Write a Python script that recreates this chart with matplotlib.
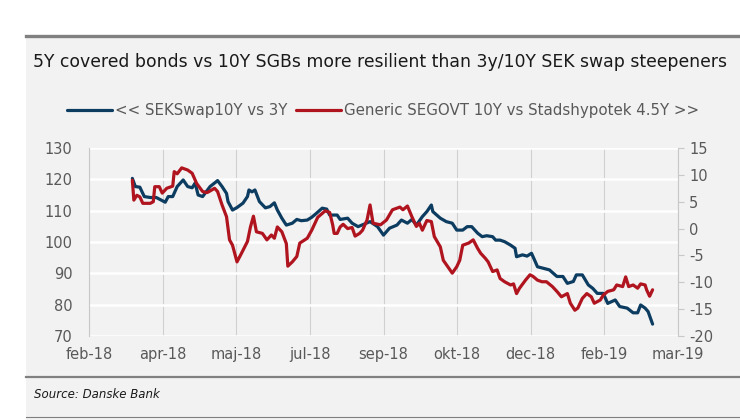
import numpy as np
import pandas as pd
import matplotlib
matplotlib.use("Agg")
import matplotlib.pyplot as plt
from matplotlib.lines import Line2D
from matplotlib.patches import Rectangle

plt.rcParams["axes.unicode_minus"] = False

# ── Data ────────────────────────────────────────────────────────────────────
START = pd.Timestamp("2018-02-21")
AXIS_DAYS = 394
TICK_LABELS = ["feb-18", "apr-18", "maj-18", "jul-18", "sep-18",
               "okt-18", "dec-18", "feb-19", "mar-19"]

# << SEKSwap10Y vs 3Y (left axis), day offset from START
swap_days = [29, 31, 34, 37, 41, 45, 49, 51, 53, 56, 59, 63, 66, 69, 71, 73,
             76, 81, 85, 86, 89, 92, 93, 96, 99, 103, 106, 107, 109, 111, 114,
             118, 121, 124, 126, 129, 132, 136, 139, 142, 146, 149, 152, 156,
             159, 161, 166, 168, 173, 176, 180, 183, 188, 193, 197, 201, 206,
             209, 213, 216, 219, 223, 226, 229, 230, 235, 239, 243, 246, 250,
             253, 256, 260, 263, 266, 270, 272, 275, 278, 282, 285, 286, 290,
             293, 296, 298, 300, 304, 308, 313, 317, 320, 324, 326, 330, 334,
             337, 340, 344, 347, 352, 355, 360, 364, 367, 369, 372, 374, 377]
swap_vals = [120.3, 117.7, 117.5, 114.5, 114.2, 114.2, 113.2, 112.7, 114.5,
             114.5, 117.7, 119.8, 117.7, 117.3, 118.8, 115.0, 114.5, 117.7,
             119.2, 119.6, 117.7, 115.5, 112.9, 110.2, 111.0, 112.4, 114.5,
             116.6, 116.0, 116.6, 112.9, 110.9, 111.3, 112.5, 110.2, 107.6,
             105.4, 106.0, 107.2, 106.8, 107.0, 107.9, 109.1, 110.8, 110.5,
             108.6, 108.6, 107.2, 107.6, 106.0, 104.9, 105.5, 106.5, 104.9,
             102.2, 104.4, 105.4, 107.0, 106.0, 107.2, 105.4, 108.1, 109.7,
             111.8, 109.7, 107.6, 106.5, 106.0, 103.8, 103.8, 104.9, 104.9,
             102.8, 101.7, 102.0, 101.7, 100.6, 100.6, 100.1, 99.0, 98.0,
             95.3, 95.9, 95.5, 96.4, 94.3, 92.1, 91.6, 91.1, 89.0, 89.0, 86.8,
             87.4, 89.5, 89.5, 86.3, 85.2, 83.6, 83.6, 80.4, 81.5, 79.4, 78.9,
             77.4, 77.4, 79.9, 78.9, 77.8, 73.8]

# Generic SEGOVT 10Y vs Stadshypotek 4.5Y >> (right axis)
gov_days = [29, 30, 32, 34, 36, 41, 43, 44, 47, 49, 52, 56, 57, 59, 62, 66, 69,
            72, 76, 79, 81, 84, 86, 89, 92, 94, 96, 99, 102, 106, 108, 110,
            112, 116, 119, 122, 124, 126, 129, 132, 133, 136, 139, 141, 146,
            149, 153, 158, 161, 163, 164, 166, 168, 170, 173, 176, 178, 181,
            183, 186, 188, 190, 195, 199, 203, 208, 210, 213, 216, 219, 221,
            223, 226, 229, 231, 235, 237, 240, 243, 246, 248, 250, 254, 257,
            260, 262, 265, 267, 270, 273, 275, 278, 282, 284, 286, 288, 292,
            295, 297, 300, 303, 306, 310, 313, 316, 320, 322, 325, 327, 330,
            333, 336, 338, 342, 344, 347, 351, 353, 357, 359, 361, 364, 367,
            369, 372, 373, 375, 377]
gov_vals = [9.0, 5.3, 6.2, 5.9, 4.7, 4.7, 5.0, 7.8, 7.8, 6.6, 7.5, 7.9, 10.6,
            10.2, 11.3, 10.9, 10.3, 8.4, 6.9, 6.7, 7.0, 7.5, 6.9, 4.4, 2.2,
            -2.1, -3.1, -6.2, -4.6, -2.4, 0.3, 2.3, -0.6, -0.9, -2.1, -1.2,
            -1.8, 0.3, -0.6, -2.8, -7.0, -6.2, -5.2, -2.7, -1.8, -0.3, 2.1,
            3.3, 3.0, 0.7, -0.9, -0.9, 0.3, 0.8, 0.0, 0.2, -1.4, -0.9, -0.3,
            1.6, 4.4, 1.0, 0.7, 1.6, 3.5, 4.0, 3.5, 4.2, 2.2, 0.4, 1.0, -0.3,
            1.5, 1.3, -1.5, -3.4, -5.9, -7.1, -8.3, -7.1, -5.9, -3.1, -2.7,
            -2.1, -3.7, -4.6, -5.5, -6.2, -8.0, -7.7, -9.3, -9.9, -10.5,
            -10.3, -12.1, -11.1, -9.6, -8.6, -8.9, -9.6, -9.9, -9.9, -10.8,
            -11.7, -12.7, -12.1, -13.9, -15.2, -14.8, -13.0, -12.1, -12.7,
            -13.9, -13.3, -12.4, -11.7, -11.4, -10.5, -10.8, -9.0, -10.8,
            -10.5, -11.1, -10.3, -10.5, -11.4, -12.6, -11.4]

BLUE = "#0d3c61"
RED = "#b0141e"
GRAY_TXT = "#595959"
PANEL = "#f2f2f2"

swap_x = START + pd.to_timedelta(swap_days, unit="D")
gov_x = START + pd.to_timedelta(gov_days, unit="D")
tick_x = [START + pd.Timedelta(days=AXIS_DAYS * k / 8) for k in range(9)]

fig = plt.figure(figsize=(7.4, 4.2), dpi=100)
fig.patch.set_facecolor("white")

# panel background and rules
fig.add_artist(Rectangle((26 / 740, 0), 1, 1 - 37 / 420, transform=fig.transFigure,
                         facecolor=PANEL, edgecolor="none", zorder=-5))
fig.add_artist(Line2D([26 / 740, 1], [1 - 35.5 / 420] * 2, color="#808080", lw=2.4))
fig.add_artist(Line2D([26 / 740, 1], [1 - 377 / 420] * 2, color="#808080", lw=1.6))
fig.add_artist(Line2D([26 / 740, 1], [1 - 417 / 420] * 2, color="#808080", lw=0.8))

fig.text(33 / 740, 1 - 62 / 420,
         "5Y covered bonds vs 10Y SGBs more resilient than 3y/10Y SEK swap steepeners",
         fontsize=12.4, color="#1a1a1a", va="center", ha="left")
fig.text(34 / 740, 1 - 395 / 420, "Source: Danske Bank", fontsize=8.5,
         style="italic", color="#1a1a1a", va="center", ha="left")

ax = fig.add_axes([89 / 740, 1 - 336 / 420, 589 / 740, 188 / 420])
ax.set_facecolor(PANEL)
ax2 = ax.twinx()

ax.plot(swap_x, swap_vals, color=BLUE, lw=2.3, solid_capstyle="round",
        label="<< SEKSwap10Y vs 3Y", zorder=3)
ax2.plot(gov_x, gov_vals, color=RED, lw=2.3, solid_capstyle="round",
         label="Generic SEGOVT 10Y vs Stadshypotek 4.5Y >>", zorder=3)

ax.set_xlim(tick_x[0], tick_x[-1])
ax.set_ylim(70, 130)
ax.set_yticks(np.arange(70, 131, 10))
ax2.set_ylim(-20, 15)
ax2.set_yticks(np.arange(-20, 16, 5))
ax.set_xticks(tick_x)
ax.set_xticklabels(TICK_LABELS)

ax.grid(axis="y", color="white", lw=1.8)
ax.grid(axis="x", color="#d0d0d0", lw=0.8)
ax.set_axisbelow(True)

for a in (ax, ax2):
    for s in ("top", "bottom"):
        a.spines[s].set_visible(False)
ax.spines["right"].set_visible(False)
ax2.spines["left"].set_visible(False)
ax.spines["left"].set_color("#c8c8c8")
ax2.spines["right"].set_color("#c8c8c8")

ax.tick_params(axis="y", length=0, labelsize=10.5, labelcolor=GRAY_TXT, pad=12)
ax.tick_params(axis="x", length=0, labelsize=10.5, labelcolor=GRAY_TXT, pad=8)
ax2.tick_params(axis="y", length=4, color="#c8c8c8", labelsize=10.5,
                labelcolor=GRAY_TXT, pad=4)

h1, l1 = ax.get_legend_handles_labels()
h2, l2 = ax2.get_legend_handles_labels()
fig.legend(h1 + h2, l1 + l2, loc="center", bbox_to_anchor=(383 / 740, 1 - 111 / 420),
           ncol=2, frameon=False, fontsize=10.8, labelcolor=GRAY_TXT,
           handlelength=3.0, handletextpad=0.2, columnspacing=0.6)

fig.savefig("out.png", dpi=100, facecolor=fig.get_facecolor())
